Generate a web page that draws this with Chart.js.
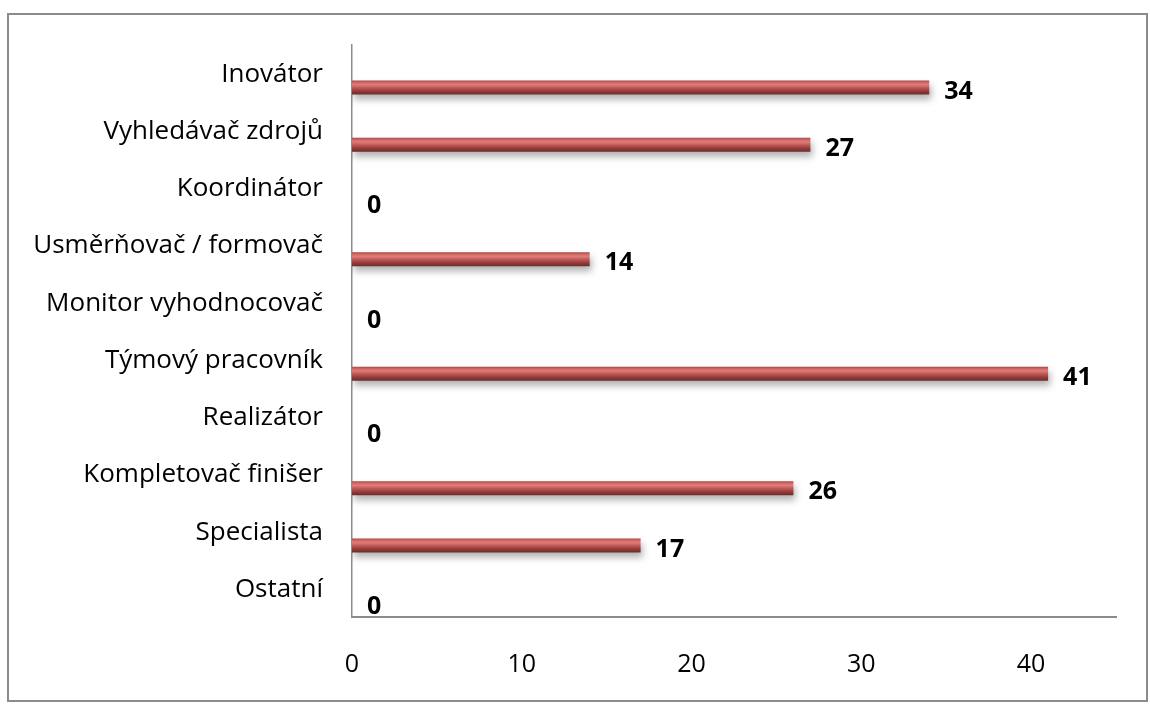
<!DOCTYPE html>
<html>
<head>
<meta charset="utf-8">
<script src="https://cdn.jsdelivr.net/npm/chart.js@4"></script>
<style>
  html, body { margin: 0; padding: 0; background: #fff; }
  #frame { position: absolute; left: 7px; top: 13px; width: 1137px; height: 685px; border: 2px solid #8c8c8c; }
  #wrap { position: absolute; left: 0; top: 0; width: 1150px; height: 704px; }
</style>
</head>
<body>
<div id="frame"></div>
<div id="wrap"><canvas id="chart_roles"></canvas></div>
<script>
(function(){
  'use strict';

  var roles = ['Inovátor', 'Vyhledávač zdrojů', 'Koordinátor', 'Usměrňovač / formovač',
    'Monitor vyhodnocovač', 'Týmový pracovník', 'Realizátor', 'Kompletovač finišer',
    'Specialista', 'Ostatní'];
  var counts = [34, 27, 0, 14, 0, 41, 0, 26, 17, 0];
  var xTicks = [0, 10, 20, 30, 40];
  var xMax = 45;

  var font = '"Open Sans", Lato, sans-serif';

  // vertical "cylinder" gradient for each bar
  function barFill(c) {
    var ch = c.chart, ys = ch.scales.y;
    if (!ys || c.dataIndex == null || !ys.height) return '#c0504d';
    var step = ys.height / roles.length;
    var yc = ys.getPixelForValue(c.dataIndex) + step / 4;
    var h = step / 2 * 0.49;
    var g = ch.ctx.createLinearGradient(0, yc - h / 2, 0, yc + h / 2);
    g.addColorStop(0, '#a94643');
    g.addColorStop(0.15, '#d06a67');
    g.addColorStop(0.3, '#e07c7a');
    g.addColorStop(0.5, '#c25b58');
    g.addColorStop(0.75, '#943c3a');
    g.addColorStop(1, '#6c2a28');
    return g;
  }

  var barShadow = {
    id: 'barShadow',
    beforeDatasetDraw: function(chart, args) {
      if (args.index !== 1) return;
      var c = chart.ctx;
      c.save();
      c.shadowColor = 'rgba(0,0,0,0.3)';
      c.shadowBlur = 7;
      c.shadowOffsetX = 2;
      c.shadowOffsetY = 5;
    },
    afterDatasetDraw: function(chart, args) {
      if (args.index !== 1) return;
      chart.ctx.restore();
    }
  };

  var valueLabels = {
    id: 'valueLabels',
    afterDatasetsDraw: function(chart) {
      var c = chart.ctx;
      var meta = chart.getDatasetMeta(1);
      c.save();
      c.font = 'bold 25px ' + font;
      c.fillStyle = '#000';
      c.textAlign = 'left';
      c.textBaseline = 'middle';
      meta.data.forEach(function(el, i) {
        c.fillText(String(counts[i]), el.x + 15, el.y + 4);
      });
      c.restore();
    }
  };

  var data = {
    labels: roles,
    datasets: [{
      label: 'spacer',
      data: counts.map(function(){ return null; })
    }, {
      label: 'Počet',
      data: counts,
      backgroundColor: barFill,
      borderWidth: 0
    }]
  };

  var options = {
    indexAxis: 'y',
    responsive: true,
    maintainAspectRatio: false,
    animation: false,
    categoryPercentage: 1,
    barPercentage: 0.49,
    layout: { padding: { top: 41, right: 34, left: 0, bottom: 0 } },
    plugins: { legend: { display: false }, tooltip: { enabled: false } },
    scales: {
      x: {
        min: 0,
        max: xMax,
        afterBuildTicks: function(s) { s.ticks = xTicks.map(function(v){ return { value: v }; }); },
        afterFit: function(s) { s.height = 87; },
        grid: { display: false, drawTicks: false },
        border: { color: '#8c8c8c', width: 2 },
        ticks: { color: '#000', padding: 33, font: { family: font, size: 25 } }
      },
      y: {
        afterFit: function(s) { s.width = 352; },
        grid: { display: false, drawTicks: false },
        border: { color: '#8c8c8c', width: 1.5 },
        ticks: { color: '#000', padding: 29, labelOffset: 1, font: { family: font, size: 26 } }
      }
    }
  };

  var ctx = document.getElementById('chart_roles').getContext('2d');
  var myChart = new Chart(ctx, {
    type: 'bar',
    data: data,
    options: options,
    plugins: [barShadow, valueLabels]
  });
  myChart.update('none');
})();
</script>
</body>
</html>
